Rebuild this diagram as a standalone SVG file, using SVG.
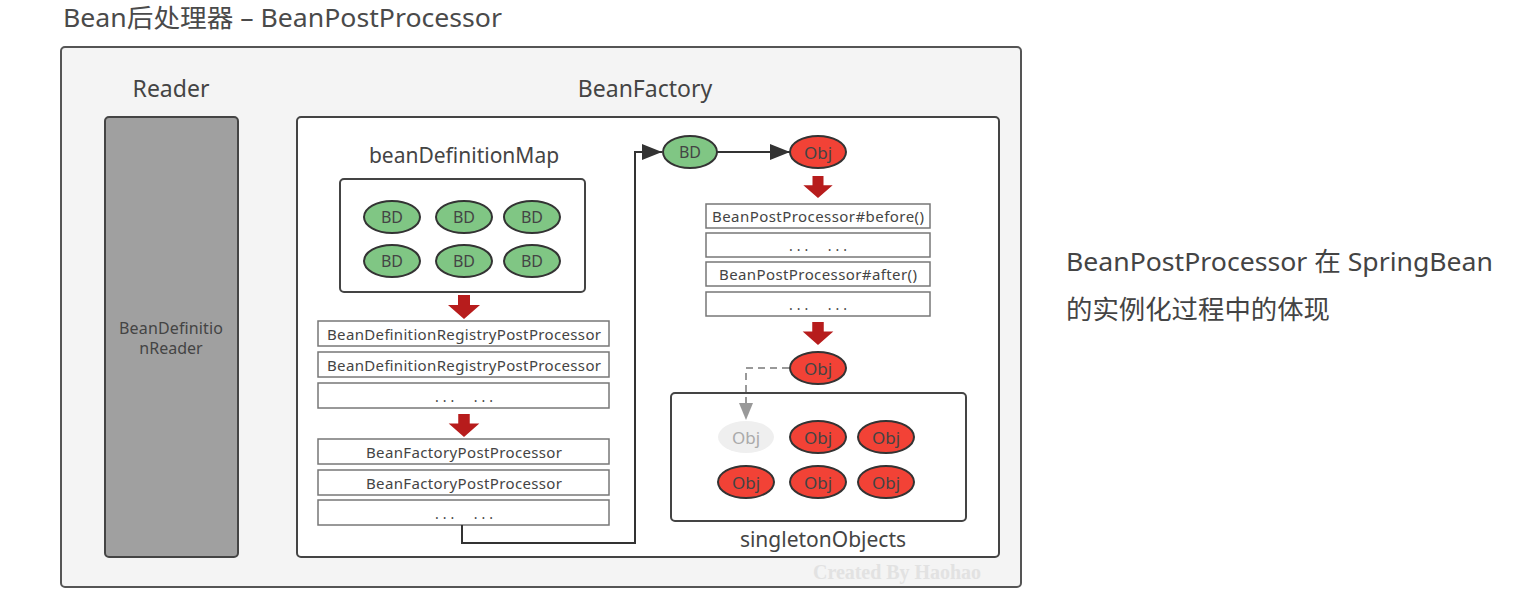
<svg xmlns="http://www.w3.org/2000/svg" width="1513" height="589" viewBox="0 0 1513 589">
<defs>
<style>
text{font-family:"Noto Sans","Noto Sans CJK SC",sans-serif;fill:#444}
.box{fill:#fff;stroke:#777;stroke-width:1.5}
.bd{fill:#80c684;stroke:#333;stroke-width:2}
.obj{fill:#f24236;stroke:#333;stroke-width:2}
.et{font-size:16px;text-anchor:middle;dominant-baseline:central}
.ot{font-size:17px;text-anchor:middle;dominant-baseline:central}
.lt{font-size:15px;text-anchor:middle;dominant-baseline:central}
.dots{font-size:14px;text-anchor:middle;dominant-baseline:central;letter-spacing:4px}
.hd{font-size:23px;text-anchor:middle}
</style>
<marker id="ahbig" markerWidth="20" markerHeight="16" refX="20" refY="8" orient="auto" markerUnits="userSpaceOnUse"><path d="M0,0 L20,8 L0,16 Z" fill="#333"/></marker>
<marker id="ahg" markerWidth="18" markerHeight="14" refX="17" refY="7" orient="auto" markerUnits="userSpaceOnUse"><path d="M0,0 L17,7 L0,14 Z" fill="#999"/></marker>
<symbol id="redarrow" viewBox="0 0 32 24" width="32" height="24"><path d="M10,0 H22 V10 H32 L16,24 L0,10 H10 Z" fill="#b71c1c"/></symbol>
</defs>
<rect width="1513" height="589" fill="#fff"/>
<text x="63" y="27" font-size="25" textLength="439" lengthAdjust="spacingAndGlyphs" style="fill:#4a4a4a">Bean后处理器 – BeanPostProcessor</text>

<g id="outer">
<rect x="61" y="47" width="960" height="540" rx="4" fill="#f4f4f4" stroke="#555" stroke-width="2"/>
<text x="897" y="579" text-anchor="middle" font-size="20" font-weight="bold" textLength="168" style="font-family:'Liberation Serif',serif;fill:#e2e2e2">Created By Haohao</text>
</g>

<g id="reader">
<text class="hd" x="171" y="97">Reader</text>
<rect x="105" y="117" width="133" height="440" rx="4" fill="#a0a0a0" stroke="#444" stroke-width="2"/>
<text x="171" y="334" font-size="16" text-anchor="middle" textLength="104">BeanDefinitio</text>
<text x="171" y="354" font-size="16" text-anchor="middle">nReader</text>
</g>

<g id="beanFactory">
<text class="hd" x="645" y="97">BeanFactory</text>
<rect x="297" y="117" width="702" height="440" rx="4" fill="#fff" stroke="#444" stroke-width="2"/>
</g>

<g id="beanDefinitionMap">
<text x="464" y="163" font-size="21" text-anchor="middle">beanDefinitionMap</text>
<rect x="340" y="179" width="245" height="113" rx="4" fill="#fff" stroke="#444" stroke-width="2"/>
<ellipse class="bd" cx="392" cy="217" rx="28" ry="16"/><text class="et" x="392" y="217">BD</text>
<ellipse class="bd" cx="464" cy="217" rx="28" ry="16"/><text class="et" x="464" y="217">BD</text>
<ellipse class="bd" cx="532" cy="217" rx="28" ry="16"/><text class="et" x="532" y="217">BD</text>
<ellipse class="bd" cx="392" cy="261" rx="28" ry="16"/><text class="et" x="392" y="261">BD</text>
<ellipse class="bd" cx="464" cy="261" rx="28" ry="16"/><text class="et" x="464" y="261">BD</text>
<ellipse class="bd" cx="532" cy="261" rx="28" ry="16"/><text class="et" x="532" y="261">BD</text>
</g>

<g id="factoryPostProcessors">
<use href="#redarrow" x="448" y="295" width="32" height="24"/>
<rect class="box" x="318" y="321" width="291" height="25"/><text class="lt" x="464" y="334" textLength="274">BeanDefinitionRegistryPostProcessor</text>
<rect class="box" x="318" y="352" width="291" height="25"/><text class="lt" x="464" y="365" textLength="274">BeanDefinitionRegistryPostProcessor</text>
<rect class="box" x="318" y="383" width="291" height="25"/><text class="dots" x="466" y="396">... &#160;...</text>
<use href="#redarrow" x="448" y="414" width="32" height="23"/>
<rect class="box" x="318" y="439" width="291" height="25"/><text class="lt" x="464" y="452" textLength="196">BeanFactoryPostProcessor</text>
<rect class="box" x="318" y="470" width="291" height="25"/><text class="lt" x="464" y="483" textLength="196">BeanFactoryPostProcessor</text>
<rect class="box" x="318" y="500" width="291" height="25"/><text class="dots" x="466" y="513">... &#160;...</text>
</g>

<g id="creation">
<ellipse class="bd" cx="690" cy="152" rx="27" ry="16"/><text class="et" x="690" y="152">BD</text>
<ellipse class="obj" cx="818" cy="152" rx="28" ry="16"/><text class="ot" x="818" y="152">Obj</text>
<use href="#redarrow" x="802" y="176" width="32" height="22"/>
<rect class="box" x="706" y="204" width="224" height="24"/><text class="lt" x="818" y="216" textLength="212">BeanPostProcessor#before()</text>
<rect class="box" x="706" y="233" width="224" height="24"/><text class="dots" x="820" y="245">... &#160;...</text>
<rect class="box" x="706" y="262" width="224" height="24"/><text class="lt" x="818" y="274" textLength="198">BeanPostProcessor#after()</text>
<rect class="box" x="706" y="292" width="224" height="24"/><text class="dots" x="820" y="304">... &#160;...</text>
<use href="#redarrow" x="802" y="322" width="32" height="23"/>
<ellipse class="obj" cx="818" cy="368" rx="28" ry="16"/><text class="ot" x="818" y="368">Obj</text>
</g>

<g id="singletonObjects">
<rect x="671" y="393" width="295" height="128" rx="4" fill="#fff" stroke="#444" stroke-width="2"/>
<ellipse cx="746" cy="437" rx="28" ry="16" fill="#efefef"/><text class="ot" x="746" y="437" style="fill:#aaa">Obj</text>
<ellipse class="obj" cx="818" cy="437" rx="28" ry="16"/><text class="ot" x="818" y="437">Obj</text>
<ellipse class="obj" cx="886" cy="437" rx="28" ry="16"/><text class="ot" x="886" y="437">Obj</text>
<ellipse class="obj" cx="746" cy="482" rx="28" ry="16"/><text class="ot" x="746" y="482">Obj</text>
<ellipse class="obj" cx="818" cy="482" rx="28" ry="16"/><text class="ot" x="818" y="482">Obj</text>
<ellipse class="obj" cx="886" cy="482" rx="28" ry="16"/><text class="ot" x="886" y="482">Obj</text>
<text x="823" y="547" font-size="21" text-anchor="middle">singletonObjects</text>
</g>

<g id="connectors" fill="none">
<path d="M462,525 V543 H635 V152 H662" stroke="#333" stroke-width="2" marker-end="url(#ahbig)"/>
<path d="M717,152 H790" stroke="#333" stroke-width="2" marker-end="url(#ahbig)"/>
<path d="M789,368 H746 V420" stroke="#999" stroke-width="2" stroke-dasharray="7,5" marker-end="url(#ahg)"/>
</g>

<g id="note">
<text x="1066" y="271" font-size="26" textLength="427" lengthAdjust="spacingAndGlyphs" style="fill:#444">BeanPostProcessor 在 SpringBean</text>
<text x="1066" y="319" font-size="26" textLength="264" lengthAdjust="spacingAndGlyphs" style="fill:#444">的实例化过程中的体现</text>
</g>
</svg>
